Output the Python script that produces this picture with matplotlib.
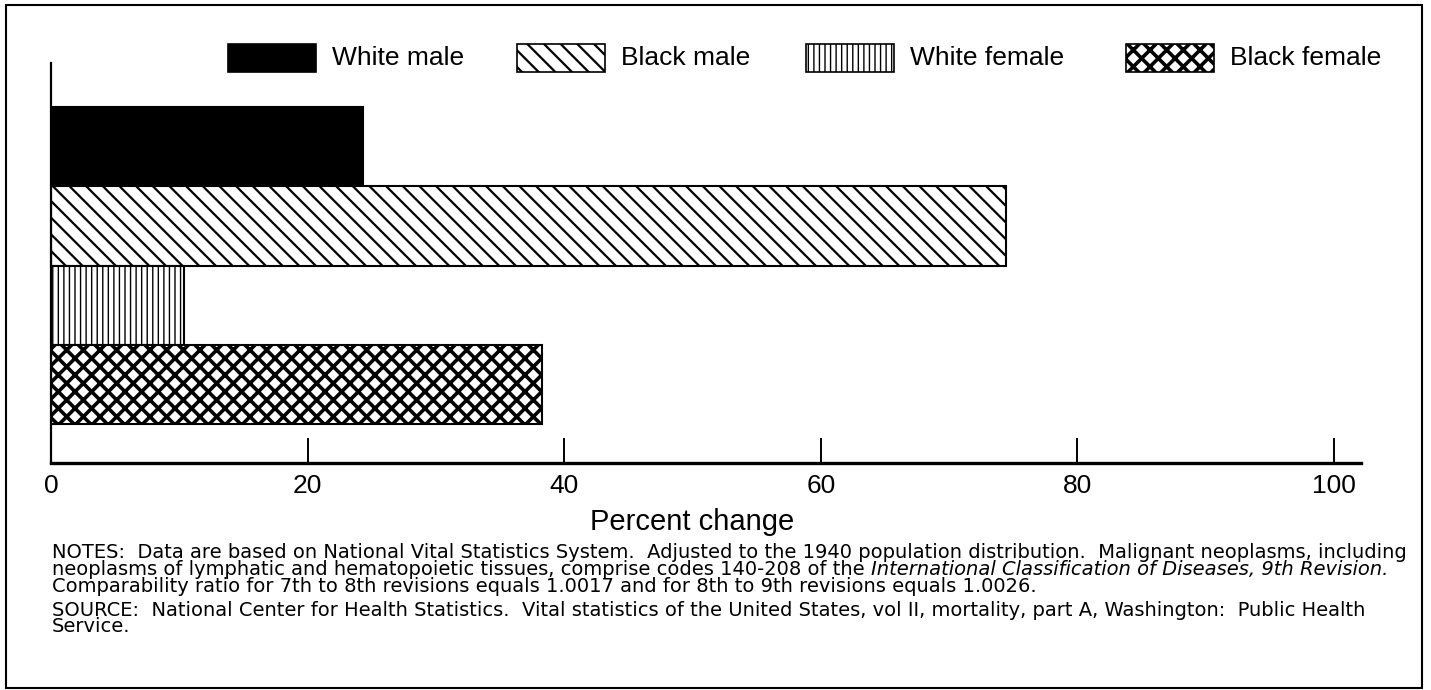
import matplotlib
matplotlib.use("Agg")
import matplotlib.pyplot as plt
from matplotlib.patches import Rectangle

plt.rcParams["font.family"] = ["Liberation Sans", "DejaVu Sans"]

groups = ["White male", "Black male", "White female", "Black female"]
pct_change = [24.3, 74.4, 10.4, 38.3]
hatches = ["", "\\\\", "|||", "xx"]
faces = ["black", "white", "white", "white"]
hatch_lw = [1.0, 1.6, 1.0, 2.6]
xticks = [0, 20, 40, 60, 80, 100]

notes = [
    "NOTES:  Data are based on National Vital Statistics System.  Adjusted to the 1940 population distribution.  Malignant neoplasms, including",
    "neoplasms of lymphatic and hematopoietic tissues, comprise codes 140-208 of the ",
    "Comparability ratio for 7th to 8th revisions equals 1.0017 and for 8th to 9th revisions equals 1.0026.",
]
notes_italic = "International Classification of Diseases, 9th Revision."
source = [
    "SOURCE:  National Center for Health Statistics.  Vital statistics of the United States, vol II, mortality, part A, Washington:  Public Health",
    "Service.",
]

W, H = 1431, 690
fig = plt.figure(figsize=(W / 100, H / 100), dpi=100)
ax = fig.add_axes([51 / W, 1 - 463 / H, (1361 - 51) / W, 400 / H])

for i, (v, h, fc, lw) in enumerate(zip(pct_change, hatches, faces, hatch_lw)):
    with plt.rc_context({"hatch.linewidth": lw}):
        bars = ax.barh(i, v, height=1.0, color=fc, edgecolor="black",
                       hatch=h, linewidth=1.5)
    for b in bars:
        if hasattr(b, "set_hatch_linewidth"):
            b.set_hatch_linewidth(lw)

ax.set_xlim(0, 102.1)
ax.set_ylim(3.99, -1.055)
ax.set_yticks([])
ax.set_xticks(xticks)
ax.tick_params(axis="x", direction="in", length=18, width=1.4, labelsize=19, pad=8)
for s in ["top", "right"]:
    ax.spines[s].set_visible(False)
ax.spines["left"].set_linewidth(1.6)
ax.spines["bottom"].set_linewidth(2.4)
ax.text(50, -0.112, "Percent change", transform=ax.get_xaxis_transform(),
        fontsize=21, ha="center", va="top")

# legend across the top
handles_x = [228, 517, 806, 1126]
for g, h, fc, lw, x0 in zip(groups, hatches, faces, hatch_lw, handles_x):
    with plt.rc_context({"hatch.linewidth": lw}):
        r = Rectangle((x0 / W, 1 - 72 / H), 88 / W, 28 / H, transform=fig.transFigure,
                      facecolor=fc, edgecolor="black", hatch=h, linewidth=1.2)
    if hasattr(r, "set_hatch_linewidth"):
        r.set_hatch_linewidth(lw)
    fig.add_artist(r)
    fig.text((x0 + 104) / W, 1 - 58 / H, g, fontsize=19, va="center", ha="left")

# notes and source
nfont = "DejaVu Sans"
fs = 14.0
ys = [553, 569.5, 586]
fig.canvas.draw()
for t, y in zip(notes, ys):
    txt = fig.text(52 / W, 1 - y / H, t, fontsize=fs, va="center", ha="left",
                   family=nfont)
    if t == notes[1]:
        fig.canvas.draw()
        bb = txt.get_window_extent()
        fig.text(bb.x1 / W, 1 - y / H, notes_italic, fontsize=fs, va="center",
                 ha="left", style="italic", family=nfont)
for t, y in zip(source, [610, 626.5]):
    fig.text(52 / W, 1 - y / H, t, fontsize=fs, va="center", ha="left", family=nfont)

# outer frame
fig.add_artist(Rectangle((6 / W, 1 - 688 / H), 1416 / W, 683 / H, transform=fig.transFigure,
                         fill=False, edgecolor="black", linewidth=1.5))

fig.savefig("out.png", dpi=100)
